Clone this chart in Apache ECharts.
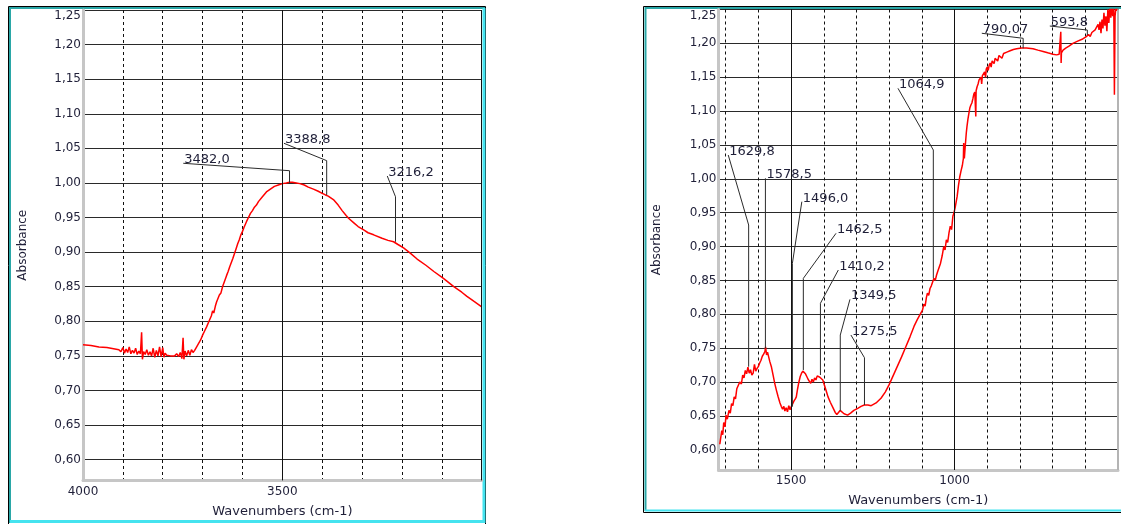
<!DOCTYPE html>
<html><head><meta charset="utf-8">
<script src="https://cdn.jsdelivr.net/npm/echarts@6/dist/echarts.min.js"></script>
<style>html,body{margin:0;padding:0;background:#fff}#c{width:1121px;height:524px}</style>
</head><body><div id="c"></div>
<script>
// ---------- data ----------
const leftWavenumbers = [4000,3980,3960,3940,3920,3910,3905,3900,3896,3892,3888,3884,3880,3876,3872,3868,3864,3860,3856,3853,3851,3848,3844,3840,3836,3832,3828,3824,3820,3816,3812,3808,3804,3800,3797,3794,3790,3786,3780,3775,3770,3765,3760,3756,3752,3749,3747,3744,3740,3736,3732,3728,3724,3720,3716,3710,3705,3700,3695,3690,3684,3678,3675,3672,3668,3665,3662,3658,3654,3650,3648,3645,3640,3636,3632,3628,3624,3620,3616,3612,3608,3604,3600,3596,3590,3585,3580,3575,3570,3565,3560,3550,3540,3530,3520,3510,3500,3490,3482,3475,3465,3456,3445,3435,3422,3410,3400,3393,3385,3372,3360,3350,3340,3334,3320,3310,3296,3285,3271,3250,3235,3221,3210,3196,3180,3162,3140,3120,3096,3070,3050,3037,3020,3000];
const leftAbsorbance = [0.766,0.765,0.763,0.762,0.760,0.759,0.756,0.762,0.754,0.760,0.755,0.763,0.753,0.758,0.754,0.761,0.752,0.757,0.753,0.784,0.745,0.756,0.752,0.759,0.751,0.756,0.750,0.761,0.748,0.758,0.750,0.763,0.749,0.762,0.748,0.754,0.751,0.753,0.750,0.752,0.750,0.753,0.749,0.755,0.746,0.776,0.745,0.757,0.750,0.758,0.751,0.759,0.755,0.758,0.762,0.768,0.773,0.780,0.786,0.792,0.800,0.808,0.815,0.812,0.822,0.828,0.826,0.838,0.841,0.850,0.852,0.858,0.866,0.872,0.879,0.885,0.891,0.898,0.905,0.912,0.918,0.925,0.930,0.936,0.944,0.950,0.956,0.960,0.965,0.968,0.973,0.980,0.987,0.991,0.995,0.997,0.999,1.000,1.001,1.001,1.000,0.999,0.997,0.994,0.991,0.988,0.985,0.983,0.981,0.976,0.968,0.960,0.953,0.949,0.942,0.937,0.932,0.928,0.925,0.920,0.917,0.915,0.911,0.906,0.899,0.890,0.881,0.872,0.862,0.850,0.842,0.836,0.829,0.821];

const rightWavenumbers = [1718,1716,1712,1709,1706,1702,1699,1695,1690,1686,1682,1678,1674,1670,1666,1661,1657,1652,1648,1644,1640,1636,1632,1628,1624,1620,1616,1612,1608,1604,1600,1596,1592,1588,1584,1580,1578,1575,1572,1568,1565,1560,1555,1550,1545,1540,1534,1530,1526,1522,1519,1515,1511,1507,1503,1499,1495,1491,1487,1484,1480,1476,1472,1468,1464,1460,1456,1452,1448,1444,1440,1436,1432,1428,1424,1420,1416,1412,1408,1403,1398,1392,1387,1380,1372,1365,1360,1355,1350,1344,1338,1332,1327,1318,1308,1296,1286,1276,1265,1255,1240,1225,1212,1200,1188,1175,1162,1149,1136,1124,1114,1104,1098,1094,1090,1086,1083,1079,1075,1071,1067,1063,1059,1055,1051,1047,1043,1038,1033,1029,1025,1021,1017,1013,1009,1005,1002,998,995,992,988,984,980,976,973,972,970,967,964,962,959,956,953,950,947,944,941,938,935,934,931,928,925,922,919,917,915,911,908,905,903,900,897,894,891,888,885,882,879,876,872,868,864,860,855,850,845,840,830,820,810,795,780,760,745,729,715,699,688,680,676,675,674,673,668,660,650,638,625,610,597,590,585,580,575,570,567,564,561,558,555,552,549,546,543,540,537,534,531,528,525,522,519,516,513,511,509,506,503,500];
const rightAbsorbance = [0.608,0.615,0.628,0.622,0.640,0.634,0.651,0.645,0.658,0.654,0.668,0.665,0.678,0.675,0.690,0.688,0.700,0.697,0.710,0.706,0.717,0.712,0.722,0.713,0.718,0.710,0.713,0.726,0.716,0.720,0.723,0.728,0.732,0.738,0.741,0.745,0.752,0.740,0.744,0.736,0.730,0.722,0.710,0.698,0.688,0.679,0.669,0.664,0.660,0.664,0.657,0.662,0.656,0.665,0.659,0.664,0.668,0.672,0.675,0.678,0.690,0.700,0.708,0.713,0.716,0.718,0.712,0.708,0.704,0.701,0.698,0.704,0.700,0.706,0.703,0.709,0.710,0.707,0.706,0.703,0.695,0.686,0.678,0.670,0.662,0.655,0.652,0.655,0.658,0.657,0.653,0.651,0.651,0.654,0.658,0.661,0.664,0.666,0.666,0.665,0.669,0.676,0.685,0.696,0.709,0.723,0.737,0.752,0.767,0.782,0.792,0.801,0.806,0.815,0.812,0.825,0.831,0.828,0.838,0.842,0.840,0.853,0.850,0.858,0.864,0.862,0.875,0.886,0.900,0.895,0.910,0.906,0.920,0.930,0.925,0.945,0.949,0.958,0.966,0.974,0.990,1.003,1.012,1.020,1.030,1.053,1.030,1.050,1.068,1.077,1.088,1.097,1.105,1.109,1.112,1.118,1.125,1.128,1.092,1.130,1.136,1.140,1.146,1.148,1.150,1.140,1.152,1.153,1.158,1.150,1.162,1.165,1.160,1.168,1.171,1.165,1.174,1.176,1.170,1.178,1.180,1.174,1.182,1.183,1.178,1.185,1.186,1.187,1.189,1.191,1.192,1.193,1.193,1.192,1.190,1.188,1.186,1.184,1.183,1.184,1.185,1.217,1.171,1.186,1.190,1.193,1.196,1.200,1.203,1.206,1.210,1.213,1.210,1.216,1.214,1.220,1.222,1.218,1.228,1.220,1.232,1.215,1.235,1.222,1.245,1.226,1.240,1.218,1.250,1.230,1.255,1.238,1.252,1.240,1.258,1.124,1.240,1.255,1.248,1.252];

const yTickLabels = [0.60,0.65,0.70,0.75,0.80,0.85,0.90,0.95,1.00,1.05,1.10,1.15,1.20,1.25];
const leftXTickLabels = [4000, 3500];
const rightXTickLabels = [1500, 1000];
const leftMajorLines = [3500, 3000];
const rightMajorLines = [1500, 1000];

const leftPeakLabels = ['3482,0','3388,8','3216,2'];
const leftPeakWavenumbers = [3482.0, 3388.8, 3216.2];
const leftPeakAbsorbance = [1.0004, 0.9826, 0.915];
const rightPeakLabels = ['1629,8','1578,5','1496,0','1462,5','1410,2','1349,5','1275,5','1064,9','790,07','593,8'];
const rightPeakWavenumbers = [1629.8, 1578.5, 1496.0, 1462.5, 1410.2, 1349.5, 1275.5, 1064.9, 790.07, 593.8];
const rightPeakAbsorbance = [0.7225, 0.7497, 0.6635, 0.7177, 0.7103, 0.6576, 0.666, 0.853, 1.1927, 1.2123];

// ---------- leader-line layout (data units): [elbowAbs, labelWn, labelAbs] ----------
const leftLeaderLayout = [[1.0177, 3748.5, 1.0284],[1.0322, 3495.9, 1.0573],[0.980, 3236.8, 1.010]];
const rightLeaderLayout = [[0.9318,1692.2,1.0351],[1.0007,1578.5,1.0007],[0.8752,1467.1,0.9662],[0.853,1362.5,0.9195],[0.8162,1355.5,0.8653],[0.7693,1319.9,0.822],[0.7358,1316.9,0.7693],[1.0425,1173,1.1336],[1.2075,916.6,1.2149],[1.2197,708.6,1.2256]];

// ---------- chart ----------
const FONT = '"DejaVu Sans", sans-serif';
const TXT = '#1f1f38';
const chart = echarts.init(document.getElementById('c'), null, {renderer: 'canvas'});

function zip(a, b) { return a.map((v, i) => [v, b[i]]); }
function yFmt(v) {
  const hit = yTickLabels.find(t => Math.abs(t - v) < 1e-6);
  if (hit === undefined) return '';
  const s = hit.toFixed(2).replace('.', ',');
  return hit === yTickLabels[yTickLabels.length - 1] ? '{top|' + s + '}' : s;
}
function xAxisCfg(gi, min, max, labels, gap) {
  return {
    type: 'value', gridIndex: gi, min: min, max: max, inverse: true, interval: 100,
    axisLine: {onZero: false, lineStyle: {color: '#c6c6c6', width: 3}},
    axisTick: {show: false},
    axisLabel: {margin: 5, color: TXT, fontFamily: FONT, fontSize: 12,
      formatter: v => labels.includes(v) ? String(v) : ''},
    splitLine: {show: true, lineStyle: {color: '#111', width: 1, type: [3, 3]}},
    name: 'Wavenumbers (cm-1)', nameLocation: 'middle', nameGap: gap,
    nameTextStyle: {color: TXT, fontFamily: FONT, fontSize: 13}
  };
}
function yAxisCfg(gi, gap) {
  return {
    type: 'value', gridIndex: gi, min: 0.57, max: 1.25, splitNumber: 13,
    axisLine: {onZero: false, lineStyle: {color: '#c6c6c6', width: 3}},
    axisTick: {show: false},
    axisLabel: {margin: 2, color: TXT, fontFamily: FONT, fontSize: 12, formatter: yFmt,
      rich: {top: {padding: [12, 0, 0, 0], color: TXT, fontFamily: FONT, fontSize: 12}}},
    splitLine: {show: true, lineStyle: {color: '#2a2a2a', width: 1}},
    name: 'Absorbance', nameLocation: 'middle', nameGap: gap,
    nameTextStyle: {color: TXT, fontFamily: FONT, fontSize: 12}
  };
}
function majorSeries(gi, values, color, width) {
  return {
    type: 'line', xAxisIndex: gi, yAxisIndex: gi, data: [], silent: true, z: 1,
    markLine: {silent: true, symbol: ['none', 'none'], label: {show: false}, animation: false,
      lineStyle: {color: color, width: width, type: 'solid'},
      data: values.map(v => ({xAxis: v}))}
  };
}
function leaderSeries(gi, wns, abs, layout, labels) {
  return {
    type: 'custom', xAxisIndex: gi, yAxisIndex: gi, z: 6, silent: true,
    data: wns.map((w, i) => [w, abs[i], layout[i][0], layout[i][1], layout[i][2]]),
    encode: {x: 0, y: 1},
    renderItem: function (params, api) {
      const tip = api.coord([api.value(0), api.value(1)]);
      const elbow = api.coord([api.value(0), api.value(2)]);
      const start = api.coord([api.value(3), api.value(4)]);
      return {type: 'group', children: [
        {type: 'polyline', shape: {points: [start, elbow, tip]},
          style: {stroke: '#2b2b2b', lineWidth: 1, fill: null}},
        {type: 'text', x: start[0] + 1, y: start[1] + 3,
          style: {text: labels[params.dataIndex], font: '13px ' + FONT, fill: TXT,
            align: 'left', verticalAlign: 'bottom'}}
      ]};
    }
  };
}
function spectrum(gi, data) {
  return {type: 'line', xAxisIndex: gi, yAxisIndex: gi, data: data, symbol: 'none',
    lineStyle: {color: '#ff0000', width: 1.5}, z: 4, clip: true, animation: false};
}

chart.setOption({
  animation: false,
  backgroundColor: '#ffffff',
  grid: [
    {left: 83, top: 10, width: 398.7, height: 470.4},
    {left: 718.5, top: 9.5, width: 401.6, height: 460.5}
  ],
  xAxis: [xAxisCfg(0, 3000, 4000, leftXTickLabels, 25), xAxisCfg(1, 500, 1722, rightXTickLabels, 24)],
  yAxis: [yAxisCfg(0, 54), yAxisCfg(1, 56)],
  graphic: [
    {type: 'rect', silent: true, z: 0, shape: {x: 8.5, y: 6.5, width: 477, height: 520}, style: {fill: null, stroke: '#000', lineWidth: 1}},
    {type: 'polyline', silent: true, z: 0, shape: {points: [[10, 523], [10, 8], [485, 8]]}, style: {stroke: '#2aa7a7', lineWidth: 2, fill: null}},
    {type: 'polyline', silent: true, z: 0, shape: {points: [[484, 8], [484, 521.5], [10, 521.5]]}, style: {stroke: '#45e3ef', lineWidth: 3, fill: null}},
    {type: 'rect', silent: true, z: 0, shape: {x: 643.5, y: 6.5, width: 500, height: 506}, style: {fill: null, stroke: '#000', lineWidth: 1}},
    {type: 'polyline', silent: true, z: 0, shape: {points: [[645.5, 511], [645.5, 8], [1125, 8]]}, style: {stroke: '#2aa7a7', lineWidth: 2, fill: null}},
    {type: 'polyline', silent: true, z: 0, shape: {points: [[645, 510.5], [1125, 510.5]]}, style: {stroke: '#45e3ef', lineWidth: 2, fill: null}}
  ],
  series: [
    majorSeries(0, leftMajorLines, '#111', 1),
    majorSeries(1, rightMajorLines, '#111', 1),
    majorSeries(1, [500], '#b4b4b4', 2),
    spectrum(0, zip(leftWavenumbers, leftAbsorbance)),
    spectrum(1, zip(rightWavenumbers, rightAbsorbance)),
    leaderSeries(0, leftPeakWavenumbers, leftPeakAbsorbance, leftLeaderLayout, leftPeakLabels),
    leaderSeries(1, rightPeakWavenumbers, rightPeakAbsorbance, rightLeaderLayout, rightPeakLabels)
  ]
});
</script>
</body></html>
